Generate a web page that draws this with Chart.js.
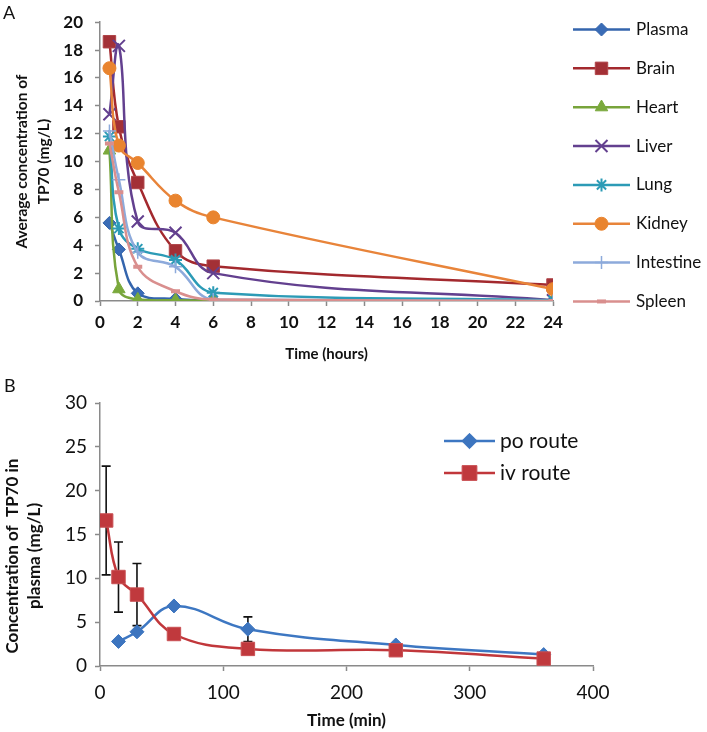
<!DOCTYPE html>
<html>
<head>
<meta charset="utf-8">
<script src="https://cdn.jsdelivr.net/npm/chart.js@4.4.1/dist/chart.umd.min.js"></script>
<style>
html,body{margin:0;padding:0;background:#fff;}
#wrap{position:relative;width:707px;height:732px;overflow:hidden;background:#fff;}
#cA{position:absolute;left:0;top:0;width:707px;height:366px;}
#cB{position:absolute;left:0;top:366px;width:707px;height:366px;}
.lbl{position:absolute;font-family:Lato,"Liberation Sans",sans-serif;font-size:18px;color:#111;line-height:1.2;}
</style>
</head>
<body>
<div id="wrap">
<canvas id="cA" width="707" height="366"></canvas>
<canvas id="cB" width="707" height="366"></canvas>
<div class="lbl" style="left:3px;top:2px">A</div>
<div class="lbl" style="left:4px;top:375px">B</div>
</div>
<script>
// ---------- Panel A data (hours) ----------
const hours = [0.5, 1, 2, 4, 6, 24];
const plasma    = [5.6, 3.7, 0.55, 0.15, 0.05, 0];
const brain     = [18.6, 12.5, 8.5, 3.6, 2.5, 1.15];
const heart     = [10.8, 0.85, 0.1, 0.05, 0.03, 0];
const liver     = [13.4, 18.3, 5.7, 4.9, 2.0, 0.05];
const lung      = [11.8, 5.2, 3.75, 2.95, 0.6, 0.05];
const kidney    = [16.7, 11.15, 9.9, 7.2, 6.0, 0.85];
const intestine = [12.2, 8.7, 3.5, 2.45, 0.1, 0];
const spleen    = [11.3, 7.8, 2.45, 0.7, 0.1, 0];
const organLabels = ['Plasma','Brain','Heart','Liver','Lung','Kidney','Intestine','Spleen'];
const xTicksA = [0,2,4,6,8,10,12,14,16,18,20,22,24];
const yTicksA = [0,2,4,6,8,10,12,14,16,18,20];

// ---------- Panel B data (min) ----------
const poTime  = [15, 30, 60, 120, 240, 360];
const poConc  = [2.8, 3.9, 6.85, 4.2, 2.4, 1.3];
const poError = [0, 0, 0, 1.4, 0, 0];
const ivTime  = [5, 15, 30, 60, 120, 240, 360];
const ivConc  = [16.6, 10.15, 8.15, 3.65, 1.95, 1.8, 0.85];
const ivError = [6.2, 4.0, 3.55, 0, 0, 0, 0];
const routeLabels = ['po route', 'iv route'];
const xTicksB = [0, 100, 200, 300, 400];
const yTicksB = [0, 5, 10, 15, 20, 25, 30];

const FONT = 'Lato, "Liberation Sans", sans-serif';
const TXT = '#111111';
const AXIS = '#8a8a8a';

const pts = (xs, ys) => xs.map((x, i) => ({x: x, y: ys[i]}));

// Legend plugin: line + marker + label per dataset
const lineLegend = {
  id: 'lineLegend',
  afterDraw(chart, args, o) {
    if (!o || !o.show) return;
    const ctx = chart.ctx;
    ctx.save();
    chart.data.datasets.forEach((ds, i) => {
      const y = o.top + i * o.spacing;
      ctx.strokeStyle = ds.borderColor;
      ctx.lineWidth = ds.borderWidth;
      ctx.beginPath(); ctx.moveTo(o.x0, y); ctx.lineTo(o.x1, y); ctx.stroke();
      ctx.fillStyle = ds.pointBackgroundColor;
      ctx.strokeStyle = ds.pointBorderColor;
      ctx.lineWidth = ds.pointBorderWidth;
      Chart.helpers.drawPoint(ctx, {
        pointStyle: ds.pointStyle,
        radius: ds.pointRadius * (o.markerScale || 1),
        borderWidth: ds.pointBorderWidth,
        rotation: 0
      }, (o.x0 + o.x1) / 2, y);
      ctx.fillStyle = o.color;
      ctx.font = o.font;
      ctx.textAlign = 'left';
      ctx.textBaseline = 'middle';
      ctx.fillText(ds.label, o.textX, y);
    });
    ctx.restore();
  }
};

// Error bar plugin
const errorBars = {
  id: 'errorBars',
  beforeDatasetsDraw(chart, args, o) {
    if (!o || !o.show) return;
    const ctx = chart.ctx;
    const xs = chart.scales.x, ys = chart.scales.y;
    ctx.save();
    ctx.strokeStyle = o.color;
    ctx.lineWidth = o.width;
    chart.data.datasets.forEach(ds => {
      if (!ds.errors) return;
      ds.data.forEach((p, i) => {
        const e = ds.errors[i];
        if (!e) return;
        const px = xs.getPixelForValue(p.x);
        const yt = ys.getPixelForValue(p.y + e);
        const yb = ys.getPixelForValue(p.y - e);
        ctx.beginPath();
        ctx.moveTo(px, yt); ctx.lineTo(px, yb);
        ctx.moveTo(px - o.cap, yt); ctx.lineTo(px + o.cap, yt);
        ctx.moveTo(px - o.cap, yb); ctx.lineTo(px + o.cap, yb);
        ctx.stroke();
      });
    });
    ctx.restore();
  }
};

// Rotated multi-line axis title plugin
const sideTitle = {
  id: 'sideTitle',
  afterDraw(chart, args, o) {
    if (!o || !o.show) return;
    const ctx = chart.ctx;
    ctx.save();
    ctx.translate(o.x, o.y);
    ctx.rotate(-Math.PI / 2);
    ctx.font = o.font;
    ctx.fillStyle = o.color;
    ctx.textAlign = 'center';
    ctx.textBaseline = 'middle';
    o.lines.forEach((t, i) => ctx.fillText(t, 0, i * o.lineHeight));
    ctx.restore();
  }
};

Chart.register(lineLegend, errorBars, sideTitle);

const gridOpts = {
  display: true, drawOnChartArea: false, drawTicks: true,
  tickLength: 5, tickColor: AXIS, tickWidth: 1.5
};
const borderOpts = {display: true, color: AXIS, width: 1.5};

// ---------- Panel A ----------
const organValues = [plasma, brain, heart, liver, lung, kidney, intestine, spleen];
const organStyle = [
  {c: '#3465AD', f: '#3A6CB6', b: '#3465AD', ps: 'rectRot',  r: 6.5, bw: 1},
  {c: '#A3292E', f: '#A33036', b: '#B04448', ps: 'rect',     r: 8.8, bw: 1},
  {c: '#78A43B', f: '#7AA93C', b: '#7AA93C', ps: 'triangle', r: 7.2, bw: 1},
  {c: '#63408F', f: '#63408F', b: '#63408F', ps: 'crossRot', r: 8.5, bw: 2},
  {c: '#2C9BB6', f: '#2C9BB6', b: '#2C9BB6', ps: 'star',     r: 6.5, bw: 2},
  {c: '#E8843A', f: '#E9842F', b: '#E9842F', ps: 'circle',   r: 6.5, bw: 1},
  {c: '#8DAADB', f: '#8DAADB', b: '#8DAADB', ps: 'cross',    r: 6.5, bw: 1.5},
  {c: '#D98F8E', f: '#D98F8E', b: '#D98F8E', ps: 'line',     r: 4.5, bw: 4}
];
const dsA = organLabels.map((name, i) => ({
  label: name,
  data: pts(hours, organValues[i]),
  borderColor: organStyle[i].c,
  backgroundColor: organStyle[i].f,
  borderWidth: 2.5,
  tension: 0.4,
  pointStyle: organStyle[i].ps,
  pointRadius: organStyle[i].r,
  pointBackgroundColor: organStyle[i].f,
  pointBorderColor: organStyle[i].b,
  pointBorderWidth: organStyle[i].bw,
  order: organLabels.length - i,
  fill: false
}));

new Chart(document.getElementById('cA'), {
  type: 'line',
  data: {datasets: dsA},
  options: {
    responsive: false,
    animation: false,
    events: [],
    layout: {padding: {left: 0, top: 15.5, right: 154, bottom: 0}},
    plugins: {
      legend: {display: false},
      tooltip: {enabled: false},
      lineLegend: {show: true, x0: 573, x1: 630, textX: 636, top: 29.5, spacing: 38.85,
                   font: '17px ' + FONT, color: TXT},
      errorBars: {show: false},
      sideTitle: {show: false}
    },
    scales: {
      x: {
        type: 'linear', min: 0, max: 24,
        afterBuildTicks: s => { s.ticks = xTicksA.map(v => ({value: v})); },
        afterFit: s => { s.height = 65; },
        ticks: {font: {family: FONT, size: 17, weight: 'bold'}, color: TXT, padding: 6, maxRotation: 0, autoSkip: false},
        grid: gridOpts, border: borderOpts,
        title: {display: true, text: 'Time (hours)', color: TXT,
                font: {family: FONT, size: 15, weight: 'bold'}, padding: {top: 0, bottom: 3}}
      },
      y: {
        type: 'linear', min: 0, max: 20,
        afterBuildTicks: s => { s.ticks = yTicksA.map(v => ({value: v})); },
        afterFit: s => { s.width = 100; },
        ticks: {font: {family: FONT, size: 17, weight: 'bold'}, color: TXT, padding: 12, autoSkip: false},
        grid: gridOpts, border: borderOpts,
        title: {display: true, text: ['Average concentration of', 'TP70 (mg/L)'], color: TXT,
                font: {family: FONT, size: 15.5, weight: 'bold', lineHeight: 1.4}, padding: {top: 11, bottom: 0}}
      }
    }
  }
});

// ---------- Panel B ----------
const dsB = [
  {
    label: routeLabels[0],
    data: pts(poTime, poConc),
    errors: poError,
    borderColor: '#3D77C2', backgroundColor: '#3D75BF',
    borderWidth: 2.5, tension: 0.4,
    pointStyle: 'rectRot', pointRadius: 7,
    pointBackgroundColor: '#3D75BF', pointBorderColor: '#3D75BF', pointBorderWidth: 1,
    order: 1, fill: false
  },
  {
    label: routeLabels[1],
    data: pts(ivTime, ivConc),
    errors: ivError,
    borderColor: '#C1373B', backgroundColor: '#C0393D',
    borderWidth: 2.5, tension: 0.4,
    pointStyle: 'rect', pointRadius: 9.5,
    pointBackgroundColor: '#C0393D', pointBorderColor: '#C94F52', pointBorderWidth: 1,
    order: 0, fill: false
  }
];

new Chart(document.getElementById('cB'), {
  type: 'line',
  data: {datasets: dsB},
  options: {
    responsive: false,
    animation: false,
    events: [],
    layout: {padding: {left: 0, top: 37, right: 114, bottom: 0}},
    plugins: {
      legend: {display: false},
      tooltip: {enabled: false},
      lineLegend: {show: true, x0: 444, x1: 495, textX: 500, top: 75, spacing: 32,
                   markerScale: 1.1, font: '21px ' + FONT, color: TXT},
      errorBars: {show: true, color: '#111', width: 1.6, cap: 4.5},
      sideTitle: {show: true, x: 13, y: 190, lineHeight: 21.5,
                  lines: ['Concentration of  TP70 in', 'plasma (mg/L)'],
                  font: 'bold 17px ' + FONT, color: TXT}
    },
    scales: {
      x: {
        type: 'linear', min: 0, max: 400,
        afterBuildTicks: s => { s.ticks = xTicksB.map(v => ({value: v})); },
        afterFit: s => { s.height = 66; },
        ticks: {font: {family: FONT, size: 19}, color: TXT, padding: 10, maxRotation: 0, autoSkip: false},
        grid: gridOpts, border: borderOpts,
        title: {display: true, text: 'Time (min)', color: TXT,
                font: {family: FONT, size: 17, weight: 'bold'}, padding: {top: 0, bottom: 1}}
      },
      y: {
        type: 'linear', min: 0, max: 30,
        afterBuildTicks: s => { s.ticks = yTicksB.map(v => ({value: v})); },
        afterFit: s => { s.width = 100; },
        ticks: {font: {family: FONT, size: 19}, color: TXT, padding: 8, autoSkip: false},
        grid: gridOpts, border: borderOpts
      }
    }
  }
});
</script>
</body>
</html>
